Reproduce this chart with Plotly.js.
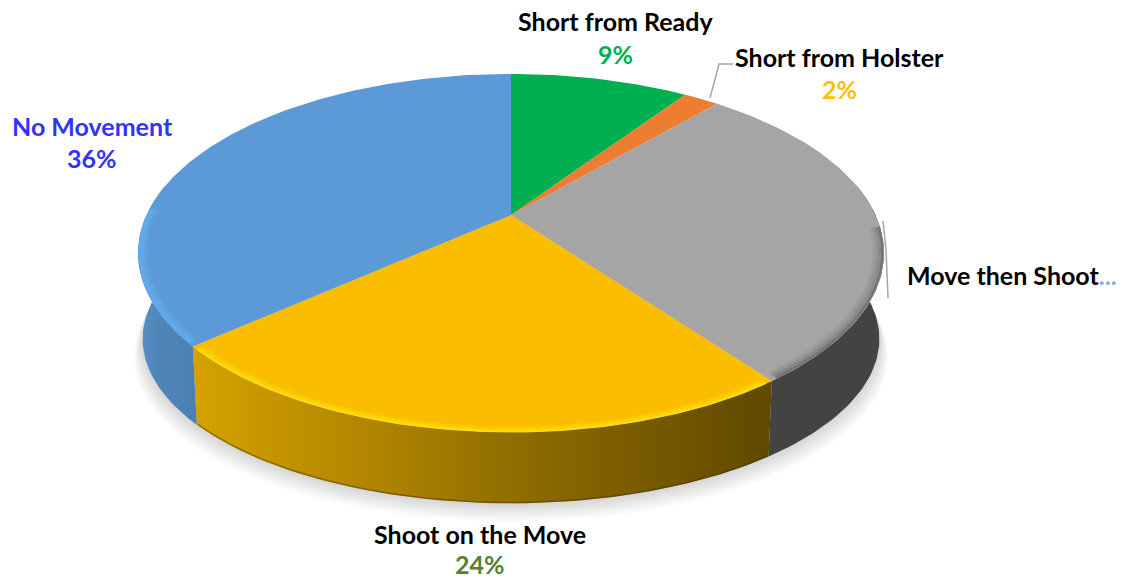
<!DOCTYPE html>
<html><head><meta charset="utf-8">
<script src="https://cdn.plot.ly/plotly-3.0.1.min.js"></script>
<style>html,body{margin:0;padding:0;background:#fff;overflow:hidden}</style>
</head><body><div id="chart" style="width:1128px;height:578px"></div>
<script>
// Data, clockwise from 12 o'clock (labels show them rounded)
const categories = ["Short from Ready","Short from Holster","Move then Shoot","Shoot on the Move","No Movement"];
const shares = [9.49,1.9,28.5,23.62,36.49];
const topColors = ["#00b050","#ed7d31","#a5a5a5","#fbbd00","#5b9ad6"];
const percentColors = ["#00b050","#ffc000",null,"#548235","#3333ff"];

// Perspective of the disc (axis units are pixels)
const CX=511, TOPY=215, AT=364.5, BT=171, K=0.2123;
const AB=360, BB=157, BOTY=304;
function pt(deg,r,a,b,y0){const t=deg*Math.PI/180,u=r*Math.sin(t),v=-r*Math.cos(t),d=1-K*v;return [CX+a*u/d,y0+b*v/d];}
const top_=(d,r=1)=>pt(d,r,AT,BT,TOPY), bot=(d,r=1)=>pt(d,r,AB,BB,BOTY);
function arc(from,to,f,r){const n=Math.max(2,Math.ceil(Math.abs(to-from)));const o=[];for(let i=0;i<=n;i++)o.push(f(from+(to-from)*i/n,r));return o;}
const bounds=[0];shares.forEach(s=>bounds.push(bounds[bounds.length-1]+s*3.6));
const slice=(i)=>[bounds[i],bounds[i+1]];
const traces=[];
const base={mode:'lines',hoverinfo:'skip',showlegend:false};
function poly(pts,extra){traces.push(Object.assign({},base,{x:pts.map(p=>p[0]),y:pts.map(p=>p[1]),fill:'toself',line:{width:0}},extra));}
function stroke(pts,color,width){traces.push(Object.assign({},base,{x:pts.map(p=>p[0]),y:pts.map(p=>p[1]),line:{color:color,width:width}}));}

// Soft shadow under the disc
for(let g=0;g<8;g++){
  const grow=1.002+g*0.003, dy=2+g*2.3;
  const s=arc(0,360,(d)=>{const p=bot(d);return [CX+(p[0]-CX)*grow,p[1]+dy];});
  poly(s,{fillcolor:'rgba(0,0,0,0.018)'});
}
// Side walls: only the front half is seen
const wallFrom=[null,null,[80,bounds[3]],[bounds[3],bounds[4]],[bounds[4],280]];
const wallFill=[null,null,
 {fillcolor:'#434343'},
 {fillgradient:{type:'horizontal',colorscale:[[0,'#d6a200'],[0.25,'#b78a00'],[0.6,'#8a6900'],[1,'#604800']]}},
 {fillgradient:{type:'horizontal',colorscale:[[0,'#5a92c8'],[0.3,'#4f86bb'],[1,'#4a7fb0']]}}];
wallFrom.forEach((w,i)=>{ if(!w) return;
  const pts=arc(w[0],w[1],top_).concat(arc(w[1],w[0],bot));
  poly(pts,wallFill[i]);
});
// Dark lower rim of the walls
stroke(arc(bounds[3],bounds[4],bot,0.997),'rgba(70,50,0,0.45)',1.5);
// Top face
shares.forEach((s,i)=>{
  const [a,b]=slice(i);
  poly([[CX,TOPY]].concat(arc(a,b,top_)),{fillcolor:topColors[i]});
});
// Bevel at the front rim, soft and built from thin translucent strokes
const [ga,gb]=slice(2),[ya,yb]=slice(3),[ba,bb]=slice(4);
[[0.975,'rgba(90,90,90,0.10)',3],[0.982,'rgba(85,85,85,0.18)',3],[0.989,'rgba(80,80,80,0.30)',3],[0.996,'rgba(70,70,70,0.50)',2.5]]
 .forEach(b=>stroke(arc(94,gb-1,top_,b[0]),b[1],b[2]));
[[0.985,'rgba(255,220,0,0.35)',3],[0.992,'rgba(255,225,0,0.55)',2.5],[0.998,'rgba(255,228,20,0.8)',2]]
 .forEach(b=>stroke(arc(ya+1,yb-1,top_,b[0]),b[1],b[2]));
[[0.98,'rgba(100,175,240,0.35)',3],[0.988,'rgba(100,175,240,0.65)',3],[0.995,'rgba(96,172,240,0.9)',3]]
 .forEach(b=>stroke(arc(ba+1,272,top_,b[0]),b[1],b[2]));
// Leader lines
const leaderX=[[710,719,733],[883,886,888]], leaderY=[[98,64,64],[221,250,298]];
leaderX.forEach((x,i)=>traces.push(Object.assign({},base,{x:x,y:leaderY[i],line:{color:'#a6a6a6',width:1.5}})));

// Labels
const labelX=[615,839,905,480,92], labelY=[21,57,275,534,126], pctY=[54,89,null,564,158];
const annotations=[];
categories.forEach((c,i)=>{
  const isTrunc=percentColors[i]===null;
  annotations.push({x:labelX[i],y:labelY[i],xref:'x',yref:'y',showarrow:false,xanchor:isTrunc?'left':'center',yanchor:'middle',
    text:isTrunc?c+'<span style="color:#8faadc">...</span>':c,
    font:{family:'Lato',size:25,color:i===4?'#3333ff':'#000',weight:700}});
  if(!isTrunc) annotations.push({x:labelX[i],y:pctY[i],xref:'x',yref:'y',showarrow:false,xanchor:'center',yanchor:'middle',
    text:Math.round(shares[i])+'%',font:{family:'Lato',size:25,color:percentColors[i],weight:700}});
});
const hidden={visible:false,fixedrange:true};
Plotly.newPlot('chart',traces,{
  width:1128,height:578,margin:{l:0,r:0,t:0,b:0},paper_bgcolor:'#fff',plot_bgcolor:'#fff',showlegend:false,
  xaxis:Object.assign({range:[0,1128]},hidden),
  yaxis:Object.assign({range:[578,0]},hidden),
  annotations:annotations
},{displayModeBar:false,staticPlot:true});
</script></body></html>
